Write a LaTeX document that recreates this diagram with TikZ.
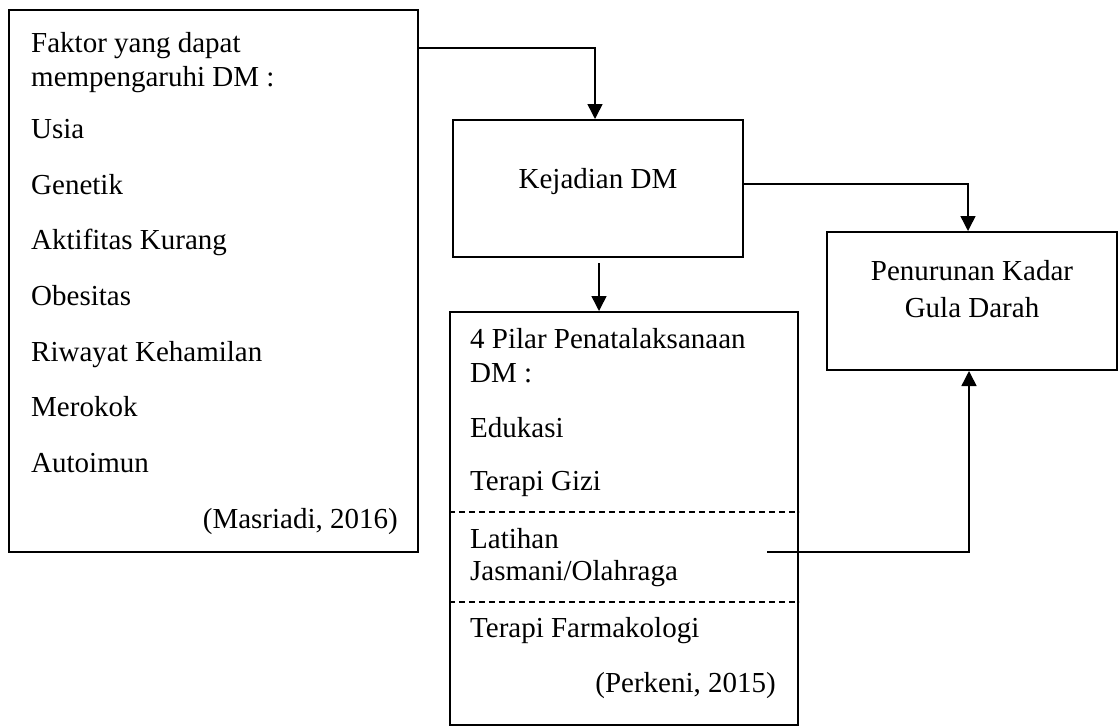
\documentclass[tikz,border=0pt]{standalone}
\usepackage{fontspec}
\setmainfont{Liberation Serif}
\usetikzlibrary{arrows.meta}
\begin{document}
\begin{tikzpicture}[x=1pt,y=-1pt,
  box/.style={draw, line width=2pt, inner sep=0pt},
  arr/.style={line width=1.5pt, -{Triangle[width=15pt,length=15pt]}},
  sep/.style={line width=1.2pt, dash pattern=on 6pt off 4pt},
  tx/.style={inner sep=0pt, anchor=base west, font=\fontsize{29}{34}\selectfont},
  tc/.style={inner sep=0pt, anchor=base, font=\fontsize{29}{34}\selectfont},
  tr/.style={inner sep=0pt, anchor=base east, font=\fontsize{29}{34}\selectfont}]
\useasboundingbox (0,0) rectangle (1118,726);
\fill[white] (0,0) rectangle (1118,726);

% boxes
\node[box, minimum width=409pt, minimum height=542pt] (faktor) at (213.5,281) {};
\node[box, minimum width=290pt, minimum height=137pt] (kejadian) at (598,188.5) {};
\node[box, minimum width=290pt, minimum height=138pt] (penurunan) at (972,301) {};
\node[box, minimum width=348pt, minimum height=413pt] (pilar) at (624,518.5) {};

% left box text
\node[tx] (f1) at (31,52) {Faktor yang dapat};
\node[tx] (f2) at (31,86) {mempengaruhi DM :};
\node[tx] (f3) at (31,138) {Usia};
\node[tx] (f4) at (31,194) {Genetik};
\node[tx] (f5) at (31,249) {Aktifitas Kurang};
\node[tx] (f6) at (31,305) {Obesitas};
\node[tx] (f7) at (31,361) {Riwayat Kehamilan};
\node[tx] (f8) at (31,416) {Merokok};
\node[tx] (f9) at (31,472) {Autoimun};
\node[tr] (f10) at (398,528) {(Masriadi, 2016)};

% Kejadian
\node[tc] (k1) at (598,188) {Kejadian DM};

% Penurunan
\node[tc] (p1) at (972,280) {Penurunan Kadar};
\node[tc] (p2) at (972,317) {Gula Darah};

% Pilar
\node[tx] (q1) at (470,348) {4 Pilar Penatalaksanaan};
\node[tx] (q2) at (470,382) {DM :};
\node[tx] (q3) at (470,437) {Edukasi};
\node[tx] (q4) at (470,490) {Terapi Gizi};
\node[tx] (q5) at (470,548) {Latihan};
\node[tx] (q6) at (470,580) {Jasmani/Olahraga};
\node[tx] (q7) at (470,637) {Terapi Farmakologi};
\node[tr] (q8) at (776,692) {(Perkeni, 2015)};

% dashed separators
\coordinate (d1) at (0,512);
\coordinate (d2) at (0,602);
\draw[sep] (pilar.west |- d1) -- (pilar.east |- d1);
\draw[sep] (pilar.west |- d2) -- (pilar.east |- d2);

% connectors
\coordinate (c1) at (595,48);
\draw[arr] (faktor.east |- c1) -| (c1 |- kejadian.north);
\coordinate (c2) at (968,184);
\draw[arr] (kejadian.east |- c2) -| (c2 |- penurunan.north);
\coordinate (c3) at (599,263);
\draw[arr] (c3) -- (c3 |- pilar.north);
\coordinate (c4) at (767,552);
\coordinate (c5) at (969,552);
\draw[arr] (c4) -- (c5) -- (c5 |- penurunan.south);
\end{tikzpicture}
\end{document}
